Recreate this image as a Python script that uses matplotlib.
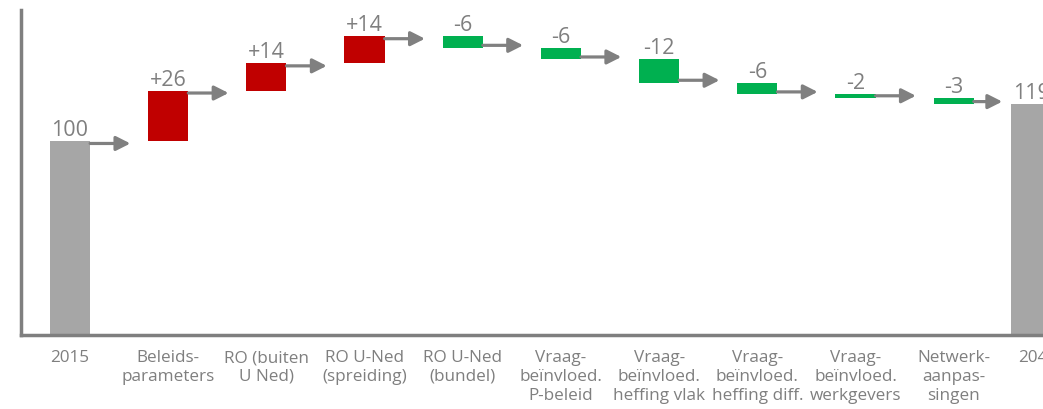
import numpy as np
import matplotlib
matplotlib.use("Agg")
import matplotlib.pyplot as plt
from matplotlib.patches import FancyArrowPatch
from matplotlib.transforms import offset_copy

plt.rcParams["font.family"] = ["Open Sans", "DejaVu Sans"]

# Waterfall data: start value, successive changes, end value
categories = [
    "2015", "Beleids-\nparameters", "RO (buiten\nU Ned)", "RO U-Ned\n(spreiding)",
    "RO U-Ned\n(bundel)", "Vraag-\nbeïnvloed.\nP-beleid", "Vraag-\nbeïnvloed.\nheffing vlak",
    "Vraag-\nbeïnvloed.\nheffing diff.", "Vraag-\nbeïnvloed.\nwerkgevers",
    "Netwerk-\naanpas-\nsingen", "2040",
]
start_value = 100
changes = [26, 14, 14, -6, -6, -12, -6, -2, -3]
end_value = 119

GREY = "#A6A6A6"
RED = "#C00000"
GREEN = "#00B050"
AXIS = "#7F7F7F"
TEXT = "#7F7F7F"

W, H, DPI = 1043, 409, 100
fig = plt.figure(figsize=(W / DPI, H / DPI), dpi=DPI)
ax = fig.add_axes([21 / W, 74 / H, 1 - 21 / W, 325 / H])

n = len(categories)
x = np.arange(n, dtype=float)
x[-1] -= 0.21          # closing bar sits a bit closer to the last step
tick_x = x.copy()
tick_x[-1] = 9.86
bw = 0.41

ax.set_xlim(-0.499, 9.91)
ax.set_ylim(0, 167.5)

# running level after each step
levels = [start_value]
for c in changes:
    levels.append(levels[-1] + c)

bars = []  # (x, bottom, height, color, end_level, label, going_up)
bars.append((x[0], 0, start_value, GREY, start_value, f"{start_value}", True))
for i, c in enumerate(changes, start=1):
    prev, cur = levels[i - 1], levels[i]
    bars.append((x[i], min(prev, cur), abs(c), RED if c > 0 else GREEN, cur,
                 f"+{c}" if c > 0 else f"-{abs(c)}", c > 0))
bars.append((x[-1], 0, end_value, GREY, end_value, f"{end_value}", True))

for xi, b, h, col, endv, lab, up in bars:
    ax.bar(xi, h, bottom=b, width=bw, color=col, linewidth=0, zorder=2)
    tr = offset_copy(ax.transData, fig=fig, x=0, y=5, units="dots")
    ax.text(xi, b + h, lab, ha="center", va="baseline", fontsize=15.5,
            color=TEXT, transform=tr, clip_on=False)

# connector arrows from each bar to the next
for i in range(n - 1):
    xi, b, h, col, endv, lab, up = bars[i]
    x0 = xi + bw / 2
    next_left = x[i + 1] - bw / 2
    x1 = min(x0 + bw, next_left - 0.09)
    dy = -2.5 if up else 2.5
    tr = offset_copy(ax.transData, fig=fig, x=0, y=dy, units="dots")
    arr = FancyArrowPatch((x0, endv), (x1, endv), transform=tr,
                          arrowstyle="-|>,head_length=8.5,head_width=4.3",
                          mutation_scale=1, shrinkA=0, shrinkB=0,
                          color="#808080", linewidth=2.3, zorder=3)
    ax.add_patch(arr)

for side in ("top", "right"):
    ax.spines[side].set_visible(False)
for side in ("left", "bottom"):
    ax.spines[side].set_color(AXIS)
    ax.spines[side].set_linewidth(2.5)

ax.set_yticks([])
ax.set_xticks(tick_x)
ax.set_xticklabels(categories, fontsize=12.3, color=TEXT, linespacing=1.22)
ax.tick_params(axis="x", length=0, pad=11)

fig.savefig("out.png", dpi=DPI)
